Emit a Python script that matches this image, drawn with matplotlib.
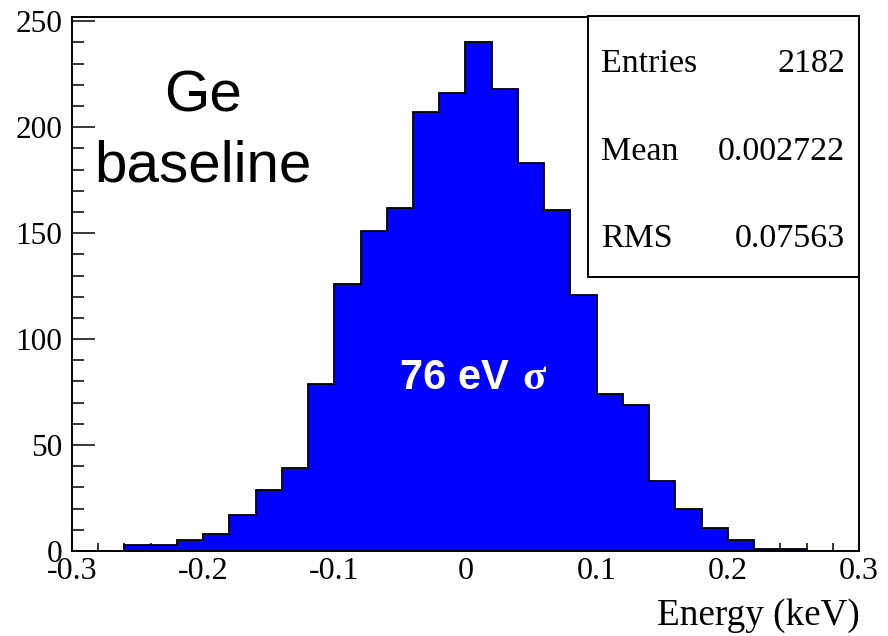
import numpy as np
import matplotlib
matplotlib.use("Agg")
import matplotlib.pyplot as plt
from matplotlib.patches import Rectangle

# ---- data ----
bin_low = -0.26
bin_width = 0.02
counts = [3, 3, 5, 8, 17, 29, 39, 79, 126, 151, 162, 207, 216,
          240, 218, 183, 161, 121, 74, 69, 33, 20, 11, 5, 1, 1]
stats_names = ["Entries", "Mean", "RMS"]
stats_values = ["2182", "0.002722", "0.07563"]
xticks = [-0.3, -0.2, -0.1, 0, 0.1, 0.2, 0.3]
xtick_labels = ["-0.3", "-0.2", "-0.1", "0", "0.1", "0.2", "0.3"]
yticks = [0, 50, 100, 150, 200, 250]
xlabel = "Energy (keV)"
title_lines = ["Ge", "baseline"]
annotation_main = "76 eV"
annotation_sym = "σ"

edges = bin_low + bin_width * np.arange(len(counts) + 1)

W, H = 888, 636
fig = plt.figure(figsize=(W / 100, H / 100), dpi=100)

def fx(px):
    return px / W

def fy(py):
    return 1 - py / H

serif = ["Liberation Serif", "DejaVu Serif"]
sans = ["Liberation Sans", "DejaVu Sans"]

ax = fig.add_axes([fx(72), fy(551), fx(859) - fx(72), fy(17) - fy(551)])
ax.stairs(counts, edges, fill=True, facecolor="#0000ff", edgecolor="none", zorder=2)
ax.stairs(counts, edges, fill=False, color="black", linewidth=1.3, zorder=3)

ax.set_xlim(-0.3, 0.3)
ax.set_ylim(0, 252)

for s in ax.spines.values():
    s.set_linewidth(1.4)
    s.set_zorder(5)

ax.set_xticks(xticks)
ax.set_xticklabels(xtick_labels, fontfamily=serif, fontsize=23)
ax.set_xticks(np.arange(-0.3, 0.3001, 0.02), minor=True)
ax.set_yticks(yticks)
ax.set_yticklabels([str(v) for v in yticks], fontfamily=serif, fontsize=22.5)
ax.set_yticks(np.arange(0, 252, 10), minor=True)

ax.tick_params(axis="x", which="major", direction="in", length=12.2, width=1.1, pad=4.5, top=False)
ax.tick_params(axis="x", which="minor", direction="in", length=5.8, width=1.1, top=False)
ax.tick_params(axis="y", which="major", direction="in", length=16.6, width=1.1, pad=7, right=False)
ax.tick_params(axis="y", which="minor", direction="in", length=8.6, width=1.1, right=False)
for t in ax.get_xticklines() + ax.get_yticklines():
    t.set_zorder(6)

# x label
fig.text(fx(860), fy(625), xlabel, ha="right", va="baseline",
         fontfamily=serif, fontsize=26.7)

# "Ge baseline"
fig.text(fx(203), fy(111), title_lines[0], ha="center", va="baseline",
         fontfamily=sans, fontsize=42)
fig.text(fx(203), fy(181), title_lines[1], ha="center", va="baseline",
         fontfamily=sans, fontsize=42)

# annotation
fig.text(fx(400), fy(389), annotation_main, ha="left", va="baseline",
         fontfamily=sans, fontsize=30, fontweight="bold", color="white", zorder=10)
fig.text(fx(522), fy(389), annotation_sym, ha="left", va="baseline",
         fontfamily=serif, fontsize=31, fontweight="bold", color="white", zorder=10)

# stats box
box = Rectangle((fx(588), fy(277)), fx(859) - fx(588), fy(16) - fy(277),
                transform=fig.transFigure, facecolor="white", edgecolor="black",
                linewidth=1.4, zorder=20)
fig.patches.append(box)
baselines = [72, 160, 247]
for name, val, by in zip(stats_names, stats_values, baselines):
    fig.text(fx(601), fy(by), name, ha="left", va="baseline",
             fontfamily=serif, fontsize=24.5, zorder=21)
    fig.text(fx(845), fy(by), val, ha="right", va="baseline",
             fontfamily=serif, fontsize=24.5, zorder=21)

fig.savefig("out.png", dpi=100, facecolor="white")
